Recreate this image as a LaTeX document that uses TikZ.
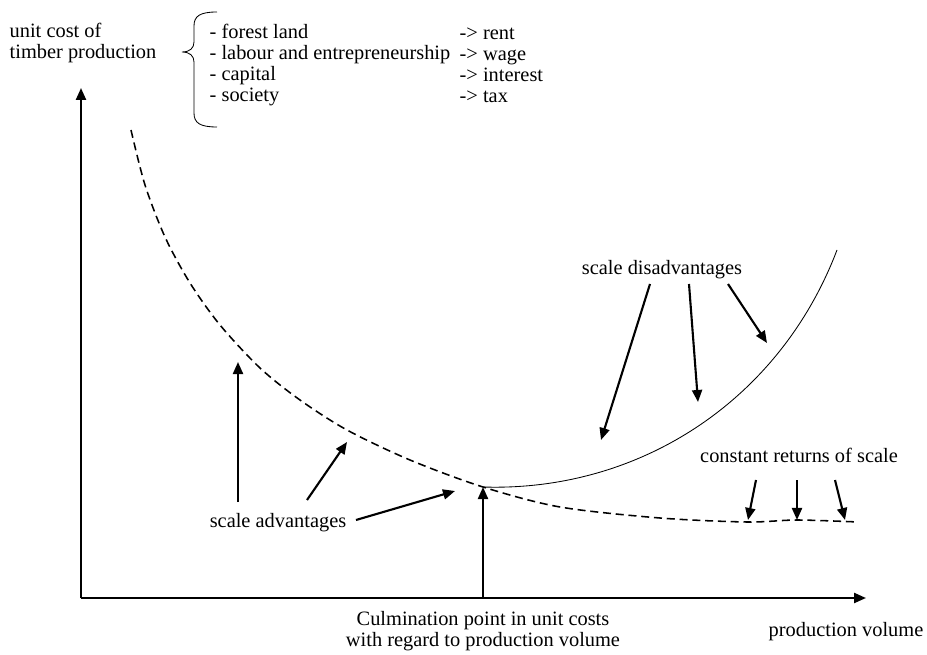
\documentclass[tikz,border=0pt]{standalone}
\usepackage{fontspec}
\setmainfont{Liberation Serif}
\usetikzlibrary{positioning, arrows.meta}

\begin{document}
\begin{tikzpicture}[x=0.025cm,y=-0.025cm,font=\rmfamily\fontsize{14.5}{15}\selectfont,
  >={Triangle[length=3mm,width=2.5mm]},
  ax/.style={line width=1.6pt,->},
  pt/.style={line width=1.5pt,->},
  lbl/.style={inner sep=1pt,align=center},
  avg/.style={line width=1.1pt,dash pattern=on 2mm off 1.2mm},
  mrg/.style={line width=0.6pt}]
  \useasboundingbox (0,0) rectangle (927,655);
  % axes
  \coordinate (o) at (81,598);
  \coordinate (ytip) at (81,88);
  \coordinate (xtip) at (866,598);
  \draw[ax](o)--(ytip);\draw[ax](o)--(xtip);
  \node[lbl,align=left,anchor=west](ylab) at (8,43){unit cost of\\ timber production};
  \node[lbl,anchor=east](xlab) at (925,632){production volume};
  % cost factors
  \draw[mrg](217,12) .. controls (200,12) and (194,16) .. (194,26) -- (194,42)
    .. controls (194,48) and (190,52) .. (182,52) .. controls (190,52) and (194,56) .. (194,62)
    -- (194,113) .. controls (194,123) and (200,127) .. (217,127);
  \node[lbl,align=left,anchor=west](fac) at (208,65){- forest land\\ - labour and entrepreneurship\\ - capital\\ - society};
  \node[lbl,align=left,anchor=west](pay) at (458,65){-> rent\\ -> wage\\ -> interest\\ -> tax};
  % curves
  \coordinate (cp) at (483,487);
  \coordinate (top) at (837,250);
  \draw[avg] plot[smooth] coordinates {(131,130) (145,185) (165,237) (190,283) (220,325) (260,368) (300,400) (347,430) (410,460) (483,487) (560,507) (660,518) (747,522) (797,520) (858,522)};
  \draw[mrg](cp) .. controls (640,492) and (780,400) .. (top);
  % labels and arrows
  \node[lbl](adv) at (278,523){scale advantages};
  \node[lbl](dis) at (662,270){scale disadvantages};
  \node[lbl](con) at (799,455){constant returns of scale};
  \node[lbl](cul) at (483,631){Culmination point in unit costs\\ with regard to production volume};
  \coordinate (a1) at (238,362);\coordinate (a1t) at (238,502);
  \coordinate (a2) at (347,442);\coordinate (a2t) at (307,500);
  \coordinate (a3) at (455,491);\coordinate (a3t) at (356,520);
  \draw[pt](a1t)--(a1);\draw[pt](a2t)--(a2);\draw[pt](a3t)--(a3);
  \coordinate (d1) at (601,440);\coordinate (d1t) at (650,284);
  \coordinate (d2) at (698,402);\coordinate (d2t) at (689,284);
  \coordinate (d3) at (767,343);\coordinate (d3t) at (728,284);
  \draw[pt](d1t)--(d1);\draw[pt](d2t)--(d2);\draw[pt](d3t)--(d3);
  \coordinate (c1) at (748,520);\coordinate (c1t) at (756,480);
  \coordinate (c2) at (797,520);\coordinate (c2t) at (797,480);
  \coordinate (c3) at (845,520);\coordinate (c3t) at (835,480);
  \draw[pt](c1t)--(c1);\draw[pt](c2t)--(c2);\draw[pt](c3t)--(c3);
  \draw[pt](o-|cp)--(cp);
\end{tikzpicture}
\end{document}
